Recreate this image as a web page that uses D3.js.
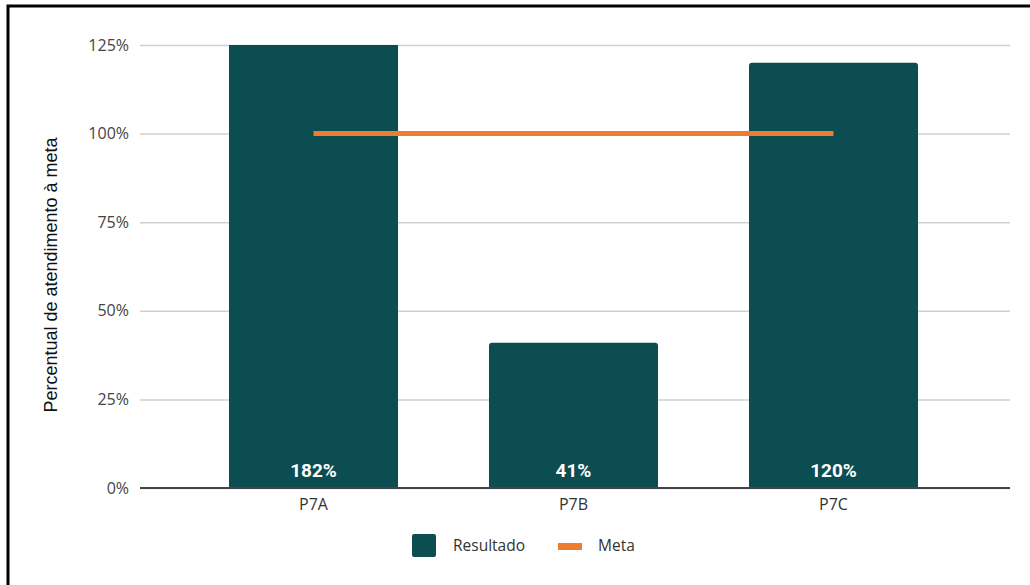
<!DOCTYPE html>
<html><head><meta charset="utf-8">
<script src="https://cdn.jsdelivr.net/npm/d3@7"></script>
<style>
html,body{margin:0;padding:0;background:#fff;}
svg{display:block;font-family:"Open Sans","Noto Sans",sans-serif;}
</style></head>
<body><svg id="c" width="1030" height="585"></svg>
<script>
const categories = ["P7A","P7B","P7C"];
const resultado = [182,41,120];
const meta = [100,100,100];
const yTicks = [0,25,50,75,100,125];
const yTitle = "Percentual de atendimento à meta";
const legendLabels = ["Resultado","Meta"];

const FONT = "'Open Sans','Noto Sans',sans-serif";
const svg = d3.select("#c");
// frame
svg.append("rect").attr("x",8).attr("y",6).attr("width",1040).attr("height",600)
  .attr("fill","none").attr("stroke","#000").attr("stroke-width",3);

const plotL = 140, plotR = 1010;
const y = d3.scaleLinear().domain([0,125]).range([488,45]);
const x = d3.scaleBand().domain(categories).range([183.5,963.5]).paddingInner(0.35).paddingOuter(0.175);

svg.append("defs").append("clipPath").attr("id","clip").append("rect")
  .attr("x",plotL).attr("y",y(125)).attr("width",plotR-plotL).attr("height",y(0)-y(125));

// grid
const yAxis = d3.axisLeft(y).tickValues(yTicks).tickFormat(d=>d+"%").tickSize(-(plotR-plotL)).tickPadding(11);
const gy = svg.append("g").attr("transform",`translate(${plotL},0)`).call(yAxis);
gy.attr("font-family",FONT).attr("font-size",16);
gy.select(".domain").remove();
gy.selectAll(".tick line").attr("stroke","#cfcfcf").attr("stroke-width",1.5);
gy.selectAll(".tick text").attr("fill","#444");

// bars
const barColor = "#0c4d52";
const bars = svg.append("g").attr("clip-path","url(#clip)");
bars.selectAll("path").data(categories).join("path")
  .attr("fill",barColor)
  .attr("d",(c,i)=>{
    const x0 = x(c), w = x.bandwidth(), top = y(resultado[i]), bot = y(0), r = 3;
    return `M${x0},${bot}V${top+r}Q${x0},${top} ${x0+r},${top}H${x0+w-r}Q${x0+w},${top} ${x0+w},${top+r}V${bot}Z`;
  });

// x axis
const xAxis = d3.axisBottom(x).tickSize(0).tickPadding(11);
const gx = svg.append("g").attr("transform",`translate(0,${y(0)})`).call(xAxis);
gx.attr("font-family",FONT).attr("font-size",16);
gx.select(".domain").remove();
gx.selectAll(".tick text").attr("fill","#333");
svg.append("line").attr("x1",plotL).attr("x2",plotR).attr("y1",y(0)).attr("y2",y(0))
  .attr("stroke","#444").attr("stroke-width",2);

// meta line
const line = d3.line().x((d,i)=>x(categories[i])+x.bandwidth()/2).y(d=>y(d));
svg.append("path").datum(meta).attr("d",line).attr("fill","none")
  .attr("stroke","#ed7d31").attr("stroke-width",5);

// value labels
svg.append("g").selectAll("text").data(categories).join("text")
  .attr("x",c=>x(c)+x.bandwidth()/2).attr("y",y(0)-11)
  .attr("text-anchor","middle").attr("fill","#fff").attr("font-weight","bold")
  .attr("font-size",19).attr("font-family","Roboto, 'Open Sans', sans-serif")
  .text((c,i)=>resultado[i]+"%");

// y title
svg.append("text").attr("transform",`translate(51,275) rotate(-90)`)
  .attr("text-anchor","middle").attr("dy","0.35em").attr("font-size",18)
  .attr("font-family","'Liberation Sans', Arial, sans-serif").attr("fill","#111").text(yTitle);

// legend
const lg = svg.append("g");
lg.append("rect").attr("x",412).attr("y",534).attr("width",24).attr("height",23).attr("rx",2).attr("fill",barColor);
lg.append("text").attr("x",453).attr("y",546).attr("dy","0.35em").attr("font-size",15.5).attr("fill","#333").text(legendLabels[0]);
lg.append("rect").attr("x",558).attr("y",543).attr("width",24).attr("height",7).attr("fill","#ed7d31");
lg.append("text").attr("x",598).attr("y",546).attr("dy","0.35em").attr("font-size",15.5).attr("fill","#333").text(legendLabels[1]);
</script></body></html>
